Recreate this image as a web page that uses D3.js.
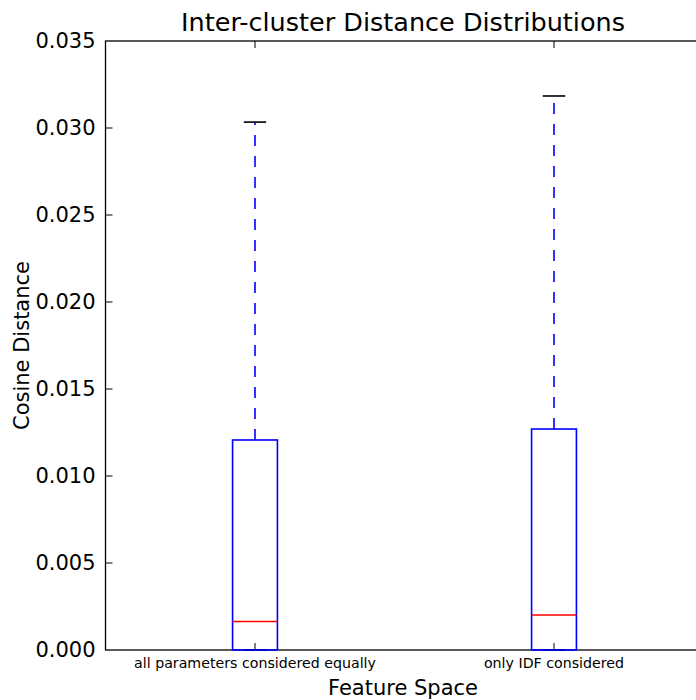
<!DOCTYPE html>
<html>
<head>
<meta charset="utf-8">
<script src="https://cdn.jsdelivr.net/npm/d3@7"></script>
<style>
  body { margin: 0; background: #fff; overflow: hidden; }
  text { font-family: "DejaVu Sans", sans-serif; fill: #000; }
</style>
</head>
<body>
<script>
const WIDTH = 696;
const HEIGHT = 700;
const MARGIN = {TOP: 41, LEFT: 105.5, BOTTOM: 50};

// box plot stats
const categories = ["all parameters considered equally", "only IDF considered"];
const lowerWhisker = [0, 0];
const q1 = [0, 0];
const medians = [0.00164, 0.00201];
const q3 = [0.01207, 0.0127];
const upperWhisker = [0.03034, 0.03184];
const yTicks = [0, 0.005, 0.01, 0.015, 0.02, 0.025, 0.03, 0.035];

const plotW = 598;
const H = 609;

var svg = d3.select("body").append("svg")
    .attr("width", WIDTH)
    .attr("height", HEIGHT);

var g = svg.append("g")
    .attr("transform", "translate(" + MARGIN.LEFT + "," + MARGIN.TOP + ")");

var xScale = d3.scaleLinear()
    .domain([0.5, 2.5])
    .range([0, plotW]);

var yScale = d3.scaleLinear()
    .domain([0, 0.035])
    .range([H, 0]);

const boxW = xScale(1.15) - xScale(1);

// spines
g.append("rect")
    .attr("x", 0).attr("y", 0)
    .attr("width", plotW).attr("height", H)
    .attr("fill", "none").attr("stroke", "#000").attr("stroke-width", 1.3);

// y ticks, inward on both sides
yTicks.forEach(function(t, i) {
    var y = yScale(t);
    if (i > 0 && i < yTicks.length - 1) {
        g.append("line").attr("x1", 0).attr("x2", 7).attr("y1", y).attr("y2", y)
            .attr("stroke", "#000");
        g.append("line").attr("x1", plotW).attr("x2", plotW - 7).attr("y1", y).attr("y2", y)
            .attr("stroke", "#000");
    }
    g.append("text")
        .attr("x", -10).attr("y", y)
        .attr("text-anchor", "end")
        .attr("dominant-baseline", "central")
        .style("font-size", "21px")
        .text(d3.format(".3f")(t));
});

// x ticks, top and bottom
categories.forEach(function(c, i) {
    var x = xScale(i + 1);
    g.append("line").attr("x1", x).attr("x2", x).attr("y1", 0).attr("y2", 7)
        .attr("stroke", "#000");
    g.append("line").attr("x1", x).attr("x2", x).attr("y1", H).attr("y2", H - 7)
        .attr("stroke", "#000");
    g.append("text")
        .attr("x", x).attr("y", H + 18)
        .attr("text-anchor", "middle")
        .style("font-size", "14.2px")
        .text(c);
});

// boxes
categories.forEach(function(c, i) {
    var x = xScale(i + 1);
    // whiskers
    g.append("line")
        .attr("x1", x).attr("x2", x)
        .attr("y1", yScale(q3[i])).attr("y2", yScale(upperWhisker[i]))
        .attr("stroke", "#0000ff").attr("stroke-width", 1.6)
        .attr("stroke-dasharray", "11,10");
    g.append("line")
        .attr("x1", x).attr("x2", x)
        .attr("y1", yScale(q1[i])).attr("y2", yScale(lowerWhisker[i]))
        .attr("stroke", "#0000ff").attr("stroke-width", 1.6)
        .attr("stroke-dasharray", "11,10");
    // caps
    [upperWhisker[i], lowerWhisker[i]].forEach(function(v) {
        g.append("line")
            .attr("x1", x - boxW / 4).attr("x2", x + boxW / 4)
            .attr("y1", yScale(v)).attr("y2", yScale(v))
            .attr("stroke", "#000").attr("stroke-width", 1.6);
    });
    // box
    g.append("rect")
        .attr("x", x - boxW / 2).attr("width", boxW)
        .attr("y", yScale(q3[i])).attr("height", yScale(q1[i]) - yScale(q3[i]))
        .attr("fill", "none").attr("stroke", "#0000ff").attr("stroke-width", 1.6);
    // median
    g.append("line")
        .attr("x1", x - boxW / 2).attr("x2", x + boxW / 2)
        .attr("y1", yScale(medians[i])).attr("y2", yScale(medians[i]))
        .attr("stroke", "#ff0000").attr("stroke-width", 1.6);
});

// title and axis labels
svg.append("text")
    .attr("x", 403).attr("y", 31)
    .attr("text-anchor", "middle")
    .style("font-size", "25.5px")
    .text("Inter-cluster Distance Distributions");

svg.append("text")
    .attr("x", 403).attr("y", 695)
    .attr("text-anchor", "middle")
    .style("font-size", "21px")
    .text("Feature Space");

svg.append("text")
    .attr("transform", "translate(29," + (MARGIN.TOP + H / 2) + ") rotate(-90)")
    .attr("text-anchor", "middle")
    .style("font-size", "21px")
    .text("Cosine Distance");
</script>
</body>
</html>
